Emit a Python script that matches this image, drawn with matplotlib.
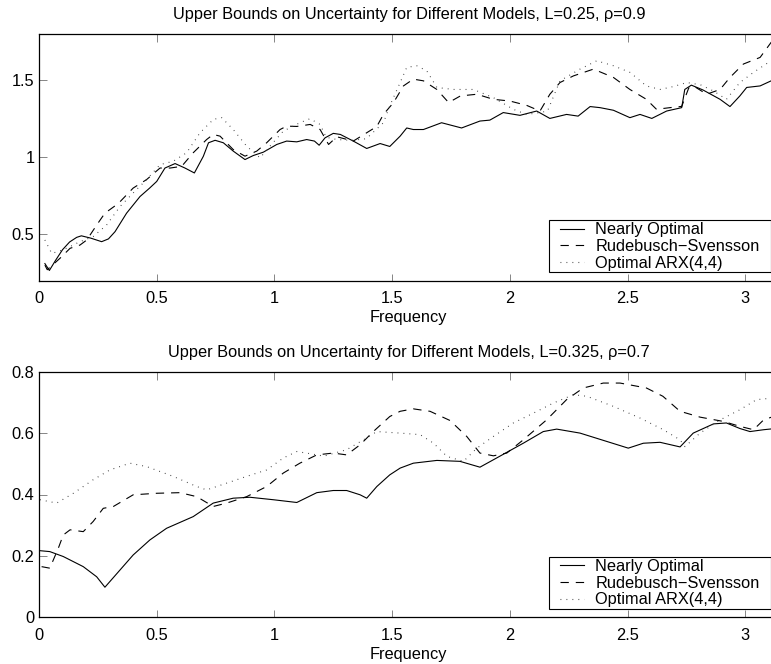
import numpy as np
import matplotlib
matplotlib.use("Agg")
import matplotlib.pyplot as plt
from matplotlib.legend_handler import HandlerLine2D

plt.rcParams['font.family'] = ['Liberation Sans', 'DejaVu Sans']
plt.rcParams['lines.scale_dashes'] = False

# ---------------- data: top panel (L=0.25, rho=0.9) ----------------
top_no_f = [0.025, 0.044, 0.07, 0.10, 0.13, 0.16, 0.18, 0.22, 0.266, 0.295, 0.323, 0.372,
            0.429, 0.47, 0.50, 0.535, 0.578, 0.62, 0.66, 0.698, 0.72, 0.748, 0.783, 0.825,
            0.875, 0.91, 0.953, 1.01, 1.052, 1.095, 1.137, 1.17, 1.19, 1.215, 1.25, 1.28,
            1.335, 1.392, 1.449, 1.49, 1.534, 1.562, 1.59, 1.633, 1.71, 1.795, 1.873, 1.915,
            1.972, 2.043, 2.114, 2.17, 2.241, 2.29, 2.341, 2.383, 2.44, 2.51, 2.553, 2.603,
            2.666, 2.73, 2.743, 2.771, 2.82, 2.893, 2.935, 2.977, 3.006, 3.063, 3.11, 3.1416]
top_no_v = [0.31, 0.265, 0.33, 0.40, 0.45, 0.48, 0.49, 0.475, 0.452, 0.47, 0.517, 0.637,
            0.745, 0.80, 0.843, 0.93, 0.959, 0.93, 0.898, 1.006, 1.094, 1.11, 1.094, 1.04,
            0.985, 1.011, 1.033, 1.083, 1.105, 1.10, 1.115, 1.105, 1.078, 1.126, 1.155, 1.148,
            1.105, 1.057, 1.089, 1.07, 1.137, 1.19, 1.18, 1.18, 1.224, 1.19, 1.235, 1.241,
            1.29, 1.272, 1.30, 1.252, 1.278, 1.267, 1.329, 1.322, 1.305, 1.257, 1.278, 1.252,
            1.30, 1.322, 1.44, 1.468, 1.437, 1.376, 1.329, 1.398, 1.453, 1.463, 1.496, 1.50]

top_rs_f = [0.025, 0.035, 0.05, 0.089, 0.132, 0.174, 0.203, 0.245, 0.28, 0.337, 0.40, 0.457,
            0.514, 0.557, 0.606, 0.655, 0.712, 0.74, 0.769, 0.825, 0.875, 0.925, 0.967, 1.024,
            1.052, 1.095, 1.152, 1.194, 1.23, 1.265, 1.335, 1.392, 1.435, 1.463, 1.506, 1.548,
            1.59, 1.633, 1.69, 1.74, 1.79, 1.86, 1.93, 2.0, 2.071, 2.128, 2.17, 2.213, 2.27,
            2.355, 2.44, 2.51, 2.58, 2.623, 2.68, 2.73, 2.76, 2.78, 2.836, 2.893, 2.935, 2.992,
            3.063, 3.11, 3.1416]
top_rs_v = [0.30, 0.27, 0.29, 0.344, 0.409, 0.43, 0.463, 0.56, 0.637, 0.70, 0.80, 0.855,
            0.93, 0.93, 0.941, 1.029, 1.115, 1.148, 1.137, 1.05, 1.007, 1.04, 1.094, 1.18,
            1.202, 1.20, 1.213, 1.18, 1.083, 1.133, 1.105, 1.159, 1.20, 1.278, 1.355, 1.463,
            1.507, 1.496, 1.44, 1.355, 1.398, 1.409, 1.376, 1.365, 1.337, 1.30, 1.409, 1.485,
            1.528, 1.572, 1.518, 1.44, 1.376, 1.311, 1.322, 1.33, 1.45, 1.463, 1.409, 1.44,
            1.518, 1.605, 1.648, 1.746, 1.78]

top_arx_f = [0.025, 0.054, 0.085, 0.118, 0.174, 0.23, 0.287, 0.344, 0.40, 0.457, 0.514, 0.57,
             0.627, 0.684, 0.741, 0.776, 0.825, 0.882, 0.939, 0.981, 1.038, 1.108, 1.151,
             1.194, 1.22, 1.265, 1.33, 1.39, 1.463, 1.49, 1.534, 1.562, 1.604, 1.647, 1.69,
             1.76, 1.845, 1.93, 2.015, 2.071, 2.128, 2.16, 2.213, 2.298, 2.369, 2.44, 2.51,
             2.58, 2.638, 2.695, 2.752, 2.81, 2.865, 2.92, 2.977, 3.035, 3.11, 3.1416]
top_arx_v = [0.463, 0.376, 0.39, 0.41, 0.452, 0.485, 0.56, 0.68, 0.768, 0.855, 0.952, 0.974,
             1.029, 1.159, 1.246, 1.257, 1.18, 1.072, 0.996, 1.072, 1.17, 1.224, 1.25,
             1.213, 1.13, 1.115, 1.11, 1.12, 1.224, 1.333, 1.485, 1.583, 1.594, 1.561, 1.453,
             1.44, 1.44, 1.387, 1.311, 1.278, 1.29, 1.30, 1.496, 1.572, 1.626, 1.594, 1.551,
             1.463, 1.44, 1.459, 1.485, 1.47, 1.43, 1.376, 1.485, 1.551, 1.627, 1.66]

# ---------------- data: bottom panel (L=0.325, rho=0.7) ----------------
bot_no_f = [0.004, 0.046, 0.103, 0.188, 0.245, 0.28, 0.344, 0.40, 0.471, 0.542, 0.655, 0.74,
            0.825, 0.896, 0.995, 1.095, 1.18, 1.25, 1.307, 1.364, 1.392, 1.435, 1.49, 1.534,
            1.59, 1.69, 1.788, 1.873, 1.944, 2.057, 2.142, 2.199, 2.298, 2.411, 2.503, 2.567,
            2.638, 2.723, 2.779, 2.865, 2.92, 2.977, 3.02, 3.078, 3.1416]
bot_no_v = [0.217, 0.214, 0.198, 0.165, 0.132, 0.098, 0.154, 0.203, 0.252, 0.29, 0.328, 0.372,
            0.388, 0.391, 0.383, 0.374, 0.406, 0.413, 0.413, 0.399, 0.388, 0.426, 0.464, 0.486,
            0.502, 0.511, 0.508, 0.489, 0.519, 0.567, 0.605, 0.613, 0.60, 0.573, 0.551, 0.567,
            0.57, 0.555, 0.60, 0.63, 0.633, 0.615, 0.605, 0.611, 0.616]

bot_rs_f = [0.011, 0.046, 0.082, 0.103, 0.132, 0.188, 0.23, 0.273, 0.316, 0.40, 0.5, 0.599,
            0.67, 0.74, 0.797, 0.882, 0.967, 1.038, 1.108, 1.18, 1.25, 1.307, 1.364, 1.42,
            1.49, 1.534, 1.59, 1.661, 1.746, 1.817, 1.873, 1.93, 1.987, 2.057, 2.156, 2.241,
            2.312, 2.397, 2.468, 2.58, 2.65, 2.723, 2.808, 2.907, 2.977, 3.035, 3.078, 3.1416]
bot_rs_v = [0.165, 0.16, 0.225, 0.268, 0.285, 0.279, 0.312, 0.355, 0.361, 0.399, 0.404, 0.406,
            0.393, 0.361, 0.372, 0.393, 0.426, 0.47, 0.502, 0.529, 0.535, 0.529, 0.562, 0.605,
            0.654, 0.671, 0.679, 0.671, 0.641, 0.589, 0.535, 0.526, 0.535, 0.578, 0.643, 0.709,
            0.747, 0.763, 0.763, 0.747, 0.72, 0.671, 0.652, 0.638, 0.622, 0.611, 0.643, 0.66]

bot_arx_f = [0.004, 0.075, 0.146, 0.23, 0.301, 0.386, 0.457, 0.57, 0.67, 0.712, 0.797, 0.882,
             0.967, 1.038, 1.095, 1.151, 1.21, 1.307, 1.378, 1.435, 1.534, 1.619, 1.676, 1.733,
             1.803, 1.86, 1.93, 2.015, 2.1, 2.185, 2.27, 2.327, 2.44, 2.553, 2.652, 2.723,
             2.744, 2.808, 2.893, 2.977, 3.048, 3.1416]
bot_arx_v = [0.383, 0.372, 0.404, 0.448, 0.48, 0.502, 0.491, 0.459, 0.426, 0.415, 0.437, 0.459,
             0.48, 0.519, 0.54, 0.533, 0.525, 0.546, 0.578, 0.605, 0.60, 0.595, 0.567, 0.524,
             0.508, 0.551, 0.589, 0.633, 0.665, 0.698, 0.725, 0.72, 0.687, 0.649, 0.611, 0.578,
             0.556, 0.60, 0.643, 0.676, 0.709, 0.716]

labels = ["Nearly Optimal", "Rudebusch\u2212Svensson", "Optimal ARX(4,4)"]
titles = ["Upper Bounds on Uncertainty for Different Models, L=0.25, \u03c1=0.9",
          "Upper Bounds on Uncertainty for Different Models, L=0.325, \u03c1=0.7"]
xticks = [0, 0.5, 1, 1.5, 2, 2.5, 3]
xticklabels = ['0', '0.5', '1', '1.5', '2', '2.5', '3']
top_yticks = [0.5, 1, 1.5]
top_yticklabels = ['0.5', '1', '1.5']
bot_yticks = [0, 0.2, 0.4, 0.6, 0.8]
bot_yticklabels = ['0', '0.2', '0.4', '0.6', '0.8']

FS = 11.8


class OffsetLineHandler(HandlerLine2D):
    def __init__(self, frac, **kw):
        super().__init__(**kw)
        self.frac = frac

    def get_xdata(self, legend, xdescent, ydescent, width, height, fontsize):
        x0 = -xdescent + width * self.frac
        x1 = -xdescent + width
        return np.array([x0, x1]), np.array([(x0 + x1) / 2])


fig = plt.figure(figsize=(7.71, 6.64), dpi=100)
W, H = 771.0, 664.0
left_px, width_px = 39.0, 739.6
ax_top = fig.add_axes([left_px / W, (H - 280.5) / H, width_px / W, 246.5 / H])
ax_bot = fig.add_axes([left_px / W, (H - 617.3) / H, width_px / W, 245.6 / H])

styles = [dict(color='black', lw=0.8, linestyle='-'),
          dict(color='black', lw=0.8, linestyle=(0, (6.0, 5.0))),
          dict(color='#333333', lw=0.8, linestyle=(0, (0.6, 3.7)))]

panels = [
    (ax_top, [(top_no_f, top_no_v), (top_rs_f, top_rs_v), (top_arx_f, top_arx_v)],
     (0.2, 1.8), top_yticks, top_yticklabels, titles[0]),
    (ax_bot, [(bot_no_f, bot_no_v), (bot_rs_f, bot_rs_v), (bot_arx_f, bot_arx_v)],
     (0, 0.8), bot_yticks, bot_yticklabels, titles[1]),
]

for ax, series, ylim, yt, ytl, title in panels:
    handles = []
    for (f, v), st, lab in zip(series, styles, labels):
        h, = ax.plot(f, v, label=lab, **st)
        handles.append(h)
    ax.set_xlim(0, np.pi)
    ax.set_ylim(*ylim)
    ax.set_xticks(xticks)
    ax.set_xticklabels(xticklabels)
    ax.set_yticks(yt)
    ax.set_yticklabels(ytl)
    ax.tick_params(direction='in', top=True, right=True, length=5.4, width=0.5,
                   color='#555555', labelsize=FS)
    ax.tick_params(axis='x', pad=7.5)
    ax.tick_params(axis='y', pad=3.4)
    for sp in ax.spines.values():
        sp.set_linewidth(0.9)
    ax.set_xlabel("Frequency", fontsize=FS, labelpad=3)
    ax.set_title(title, fontsize=FS, pad=10.6)
    hmap = {h: OffsetLineHandler(0.26) for h in handles}
    leg = ax.legend(handles=handles, labels=labels, loc='lower left',
                    bbox_to_anchor=(0.690, 8.0 / 246.0, 0.2992, 0.3), mode='expand',
                    borderaxespad=0, fontsize=FS, borderpad=0.12, labelspacing=0.1,
                    handlelength=1.97, handletextpad=0.72, fancybox=False,
                    framealpha=1, edgecolor='black', handler_map=hmap)
    leg.get_frame().set_linewidth(0.8)

fig.savefig("out.png", dpi=100)
